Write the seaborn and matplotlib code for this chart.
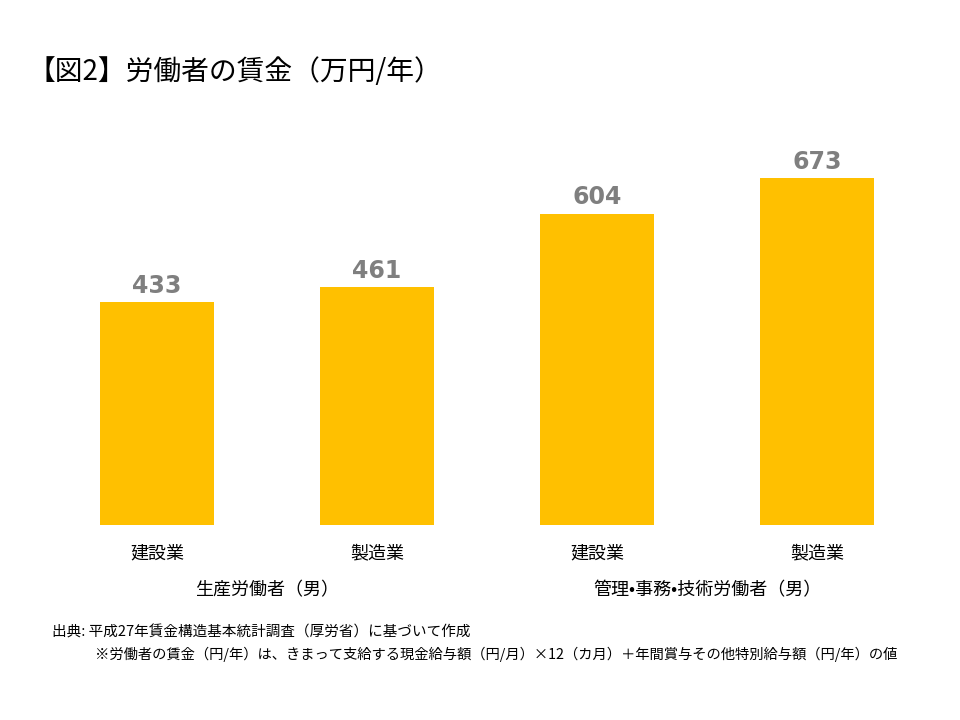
import matplotlib
matplotlib.use("Agg")
import matplotlib.pyplot as plt
import seaborn as sns
import pandas as pd

plt.rcParams["font.family"] = "Noto Sans CJK JP"

categories = ["建設業", "製造業", "建設業 ", "製造業 "]
values = [433, 461, 604, 673]
groups = ["生産労働者（男）", "管理•事務•技術労働者（男）"]

df = pd.DataFrame({"cat": categories, "val": values})

fig = plt.figure(figsize=(9.6, 7.2), dpi=100)
W, H = 960, 720
ax = fig.add_axes([47 / W, 1 - 525 / H, 880 / W, 412.5 / H])
sns.barplot(data=df, x="cat", y="val", color="#FFC000", saturation=1, width=0.52, ax=ax)
ax.set_xlim(-0.5, 3.5)
ax.set_ylim(0, 800)
for s in ax.spines.values():
    s.set_visible(False)
ax.set_yticks([])
ax.set_xlabel("")
ax.set_ylabel("")
ax.tick_params(axis="x", length=0, labelsize=13, pad=14)
ax.set_xticks(range(4))
ax.set_xticklabels([c.strip() for c in categories])
for i, v in enumerate(values):
    ax.text(i, v + 8, str(v), ha="center", va="bottom", fontsize=17, fontweight="bold",
            color="#7F7F7F", family="DejaVu Sans")
for gi, g in enumerate(groups):
    ax.text(gi * 2 + 0.5, -0.158, g, transform=ax.get_xaxis_transform(), ha="center",
            va="center", fontsize=13)

fig.text(28 / W, 1 - 72 / H, "【図2】労働者の賃金（万円/年）", fontsize=20, va="center")
fig.text(52 / W, 1 - 632 / H, "出典: 平成27年賃金構造基本統計調査（厚労省）に基づいて作成", fontsize=10.5, va="center")
fig.text(95 / W, 1 - 654 / H,
         "※労働者の賃金（円/年）は、きまって支給する現金給与額（円/月）×12（カ月）＋年間賞与その他特別給与額（円/年）の値",
         fontsize=10.3, va="center")
fig.savefig("out.png", dpi=100)
